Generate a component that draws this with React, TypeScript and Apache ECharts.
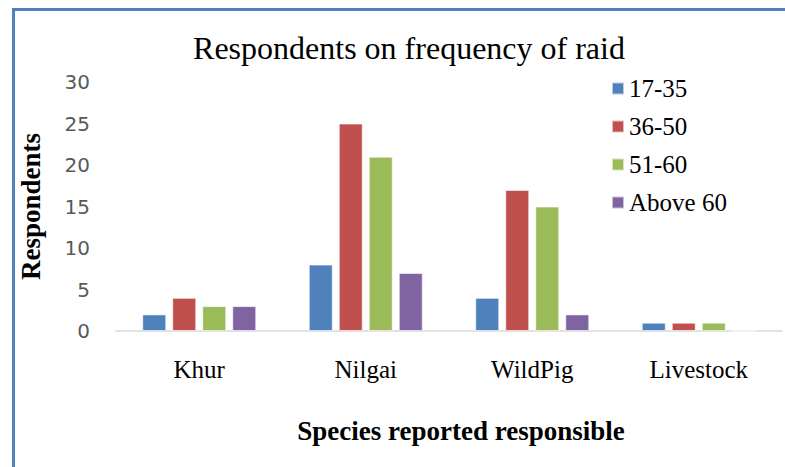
import React, { useEffect, useRef } from "react";
import * as echarts from "echarts";

const categories = ["Khur", "Nilgai", "WildPig", "Livestock"];
const seriesNames = ["17-35", "36-50", "51-60", "Above 60"];
const age17to35 = [2, 8, 4, 1];
const age36to50 = [4, 25, 17, 1];
const age51to60 = [3, 21, 15, 1];
const above60 = [3, 7, 2, 0];
const colors = ["#4f81bd", "#c0504d", "#9bbb59", "#8064a2"];

const SERIF = "'Liberation Serif', 'Times New Roman', serif";

export default function App() {
  const ref = useRef<HTMLDivElement>(null);
  useEffect(() => {
    if (!ref.current) return;
    const chart = echarts.init(ref.current, undefined, { renderer: "svg" });
    const values = [age17to35, age36to50, age51to60, above60];
    chart.setOption({
      animation: false,
      backgroundColor: "#ffffff",
      textStyle: { fontFamily: SERIF },
      title: {
        text: "Respondents on frequency of raid",
        left: 404,
        top: 27,
        textAlign: "center",
        textStyle: {
          fontFamily: SERIF,
          fontSize: 32,
          fontWeight: "normal",
          color: "#000000",
        },
      },
      legend: {
        orient: "vertical",
        left: 606,
        top: 71,
        itemWidth: 12,
        itemHeight: 12,
        itemGap: 13,
        icon: "rect",
        data: seriesNames,
        textStyle: {
          fontFamily: SERIF,
          fontSize: 25,
          color: "#000000",
        },
      },
      graphic: [
        {
          type: "rect",
          shape: { x: 13.5, y: 9.5, width: 900, height: 600 },
          style: { fill: "none", stroke: "#4f81bd", lineWidth: 3 },
          silent: true,
        },
      ],
      grid: { left: 116, right: 3, top: 82, bottom: 136, containLabel: false },
      xAxis: {
        type: "category",
        data: categories,
        name: "Species reported responsible",
        nameLocation: "middle",
        nameGap: 86,
        nameTextStyle: {
          fontFamily: SERIF,
          fontSize: 27,
          fontWeight: "bold",
          color: "#000000",
          padding: [0, 0, 0, 24],
        },
        axisLine: { lineStyle: { color: "#d9d9d9", width: 1.5 } },
        axisTick: { show: false },
        axisLabel: {
          margin: 26,
          fontFamily: SERIF,
          fontSize: 25,
          color: "#000000",
        },
      },
      yAxis: {
        type: "value",
        min: 0,
        max: 30,
        interval: 5,
        name: "Respondents",
        nameLocation: "middle",
        nameGap: 72,
        nameRotate: 90,
        nameTextStyle: {
          fontFamily: SERIF,
          fontSize: 27,
          fontWeight: "bold",
          color: "#000000",
        },
        axisLine: { show: false },
        axisTick: { show: false },
        splitLine: { show: false },
        axisLabel: {
          margin: 26,
          fontFamily: "DejaVu Sans",
          fontSize: 20,
          color: "#595959",
        },
      },
      series: seriesNames.map((name, i) => ({
        name,
        type: "bar",
        data: values[i],
        barWidth: 24,
        barGap: "25%",
        itemStyle: {
          color: colors[i],
          borderColor: "rgba(255,255,255,0.6)",
          borderWidth: 1,
        },
      })),
    });
    return () => chart.dispose();
  }, []);
  return (
    <div
      ref={ref}
      style={{ position: "fixed", left: 0, top: 0, width: 785, height: 467 }}
    />
  );
}
